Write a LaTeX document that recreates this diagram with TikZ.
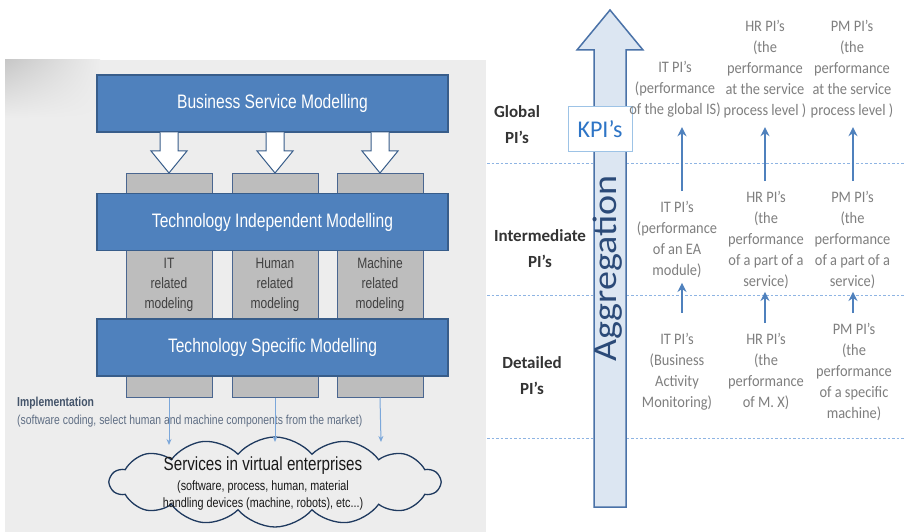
\documentclass[tikz,border=0pt]{standalone}
\usepackage{fontspec}
\usetikzlibrary{arrows.meta,shapes.symbols,shadings}
\newfontfamily\calfont{Carlito}
\newfontfamily\pifont[FakeStretch=0.9]{Carlito}
\newfontfamily\nrwfont[FakeStretch=0.8]{Liberation Sans}
\newfontfamily\aggfont[FakeStretch=1.12]{Carlito}

\definecolor{boxblue}{HTML}{4F81BD}
\definecolor{boxedge}{HTML}{385D8A}
\definecolor{colgrey}{HTML}{BDBDBD}
\definecolor{coledge}{HTML}{4A6690}
\definecolor{panel}{HTML}{EDEDED}
\definecolor{pigrey}{HTML}{7F7F7F}
\definecolor{dashblue}{HTML}{8EB4E3}
\definecolor{aggfill}{HTML}{DCE6F2}
\definecolor{aggedge}{HTML}{4A72A8}
\definecolor{aggtext}{HTML}{2B4A78}
\definecolor{kpiblue}{HTML}{2E75C6}
\definecolor{kpiedge}{HTML}{9DC3E6}
\definecolor{impl}{HTML}{44546A}
\definecolor{implsub}{HTML}{5F6E84}
\definecolor{linkblue}{HTML}{7BA7DA}
\definecolor{cloudedge}{HTML}{1F3A5F}

\tikzset{
  layerbox/.style={draw=boxedge, line width=1.2pt, fill=boxblue, minimum width=351pt,
    minimum height=57pt, inner sep=0pt, text=white, font=\nrwfont\fontsize{19.5}{22}\selectfont},
  column/.style={draw=coledge, fill=colgrey, line width=1pt, minimum width=86pt,
    minimum height=224pt, inner sep=0pt},
  coltext/.style={font=\nrwfont\fontsize{15}{20}\selectfont, text=black!75, align=center, inner sep=0pt},
  pitext/.style={font=\pifont\fontsize{16}{21}\selectfont, text=pigrey, align=center, inner sep=0pt},
  levellabel/.style={font=\calfont\bfseries\fontsize{17}{26}\selectfont, text=black!80, align=center, inner sep=0pt},
  piarrow/.style={draw=boxblue, line width=2.2pt, -{Stealth[length=9pt,width=9pt]}},
  levelline/.style={draw=dashblue, line width=0.9pt, dash pattern=on 2.5pt off 2pt},
  fatarrow/.style={draw=boxedge, fill=white, line width=1pt, line join=miter},
  implarrow/.style={draw=linkblue, line width=1pt, -{Stealth[length=6pt,width=5pt]}},
}

\begin{document}
\begin{tikzpicture}[x=1pt,y=-1pt]
\useasboundingbox (0,0) rectangle (905,532);
\fill[white] (0,0) rectangle (905,532);

% ---------- left panel: modelling layers ----------
\fill[panel] (5,60) rectangle (486,532);
\shade[upper left=black!22, upper right=panel, lower left=panel, lower right=panel]
  (5,60) rectangle (100,118);

% vertical grey columns behind the layers
\node[column] (itcol) at (169,285) {};
\node[column] (hucol) at (275,285) {};
\node[column] (macol) at (380,285) {};

% layers
\node[layerbox] (bsm) at (272.5,103.5) {Business Service Modelling};
\node[layerbox] (tim) at (272.5,222) {Technology Independent Modelling};
\node[layerbox] (tsm) at (272.5,347.5) {Technology Specific Modelling};

% texts in the visible part of the columns
\node[coltext] (ittxt) at (169,285) {IT\\related\\modeling};
\node[coltext] (hutxt) at (275,285) {Human\\related\\modeling};
\node[coltext] (matxt) at (380,285) {Machine\\related\\modeling};

% hollow arrows from the business layer to each column
\foreach \cx in {169,275,380}{
  \draw[fatarrow] (\cx-9,132.5) -- (\cx-9,151) -- (\cx-18,151) -- (\cx,173)
    -- (\cx+18,151) -- (\cx+9,151) -- (\cx+9,132.5);
}

% implementation note
\node[anchor=west, inner sep=0pt, text=impl, font=\nrwfont\bfseries\fontsize{13}{15}\selectfont]
  (impl) at (17,403) {Implementation};
\node[anchor=west, inner sep=0pt, text=implsub, font=\nrwfont\fontsize{13}{15}\selectfont]
  (implsub) at (17,421) {(software coding, select human and machine components from the market)};

% cloud of services
\node[cloud, draw=cloudedge, line width=1.3pt, cloud puffs=14, cloud puff arc=100,
  cloud ignores aspect, minimum width=330pt, minimum height=90pt, inner sep=0pt]
  (cloud) at (275,482) {};
\node[inner sep=0pt, font=\nrwfont\fontsize{19}{22}\selectfont, text=black!90]
  (cloudtitle) at (263,466) {Services in virtual enterprises};
\node[inner sep=0pt, align=center, font=\nrwfont\fontsize{13.5}{17}\selectfont, text=black!90]
  (cloudsub) at (263,496) {(software, process, human, material\\handling devices (machine, robots), etc...)};

% implementation links into the cloud
\coordinate (itend) at (169,445);
\coordinate (huend) at (275,442);
\coordinate (maend) at (381,442);
\draw[implarrow] (itcol.south) -- (itend);
\draw[implarrow] (hucol.south) -- (huend);
\draw[implarrow] (macol.south) -- (maend);

% ---------- right part: performance indicators ----------
\draw[levelline] (487,163) -- (905,163);
\draw[levelline] (487,295) -- (905,295);
\draw[levelline] (487,438) -- (905,438);

% aggregation arrow
\draw[fill=aggfill, draw=aggedge, line width=1.5pt, line join=miter]
  (594,507) -- (594,50) -- (577,50) -- (610,10) -- (643,50) -- (626,50) -- (626,507) -- cycle;
\node[rotate=90, inner sep=0pt, text=aggtext, font=\aggfont\fontsize{34}{36}\selectfont]
  (agg) at (607.5,268.5) {Aggregation};
\node[draw=kpiedge, line width=1pt, fill=white, minimum width=64pt, minimum height=45pt,
  inner sep=0pt, text=kpiblue, font=\calfont\fontsize{24}{26}\selectfont]
  (kpi) at (600,129.5) {KPI’s};

% level names
\node[levellabel] (glob) at (517,125) {Global\\PI’s};
\node[levellabel] (inter) at (540,249) {Intermediate\\PI’s};
\node[levellabel] (det) at (532,375.5) {Detailed\\PI’s};

% global indicators
\node[pitext] (itG) at (675,89) {IT PI’s\\(performance\\of the global IS)};
\node[pitext] (hrG) at (765,69) {HR PI’s\\(the\\performance\\at the service\\process level )};
\node[pitext] (pmG) at (852,69) {PM PI’s\\(the\\performance\\at the service\\process level )};

% intermediate indicators
\node[pitext] (itI) at (677,239.5) {IT PI’s\\(performance\\of an EA\\module)};
\node[pitext] (hrI) at (766,240) {HR PI’s\\(the\\performance\\of a part of a\\service)};
\node[pitext] (pmI) at (852.5,240) {PM PI’s\\(the\\performance\\of a part of a\\service)};

% detailed indicators
\node[pitext] (itD) at (677,371.5) {IT PI’s\\(Business\\Activity\\Monitoring)};
\node[pitext] (hrD) at (766,371.5) {HR PI’s\\(the\\performance\\of M. X)};
\node[pitext] (pmD) at (854,372) {PM PI’s\\(the\\performance\\of a specific\\machine)};

% aggregation links (arrows stand on fixed columns)
\coordinate (itcolx) at (682,0);
\coordinate (hrcolx) at (765,0);
\coordinate (pmcolx) at (853,0);
\draw[piarrow, shorten <=10pt, shorten >=10pt] (itI.north -| itcolx) -- (itG.south -| itcolx);
\draw[piarrow, shorten <=10pt, shorten >=9pt] (hrI.north -| hrcolx) -- (hrG.south -| hrcolx);
\draw[piarrow, shorten <=10pt, shorten >=9pt] (pmI.north -| pmcolx) -- (pmG.south -| pmcolx);
\draw[piarrow, shorten <=20pt, shorten >=5pt] (itD.north -| itcolx) -- (itI.south -| itcolx);
\draw[piarrow, shorten <=10pt, shorten >=3pt] (hrD.north -| hrcolx) -- (hrI.south -| hrcolx);
\draw[piarrow, shorten <=10pt, shorten >=3pt] (pmD.north -| pmcolx) -- (pmI.south -| pmcolx);
\end{tikzpicture}
\end{document}
